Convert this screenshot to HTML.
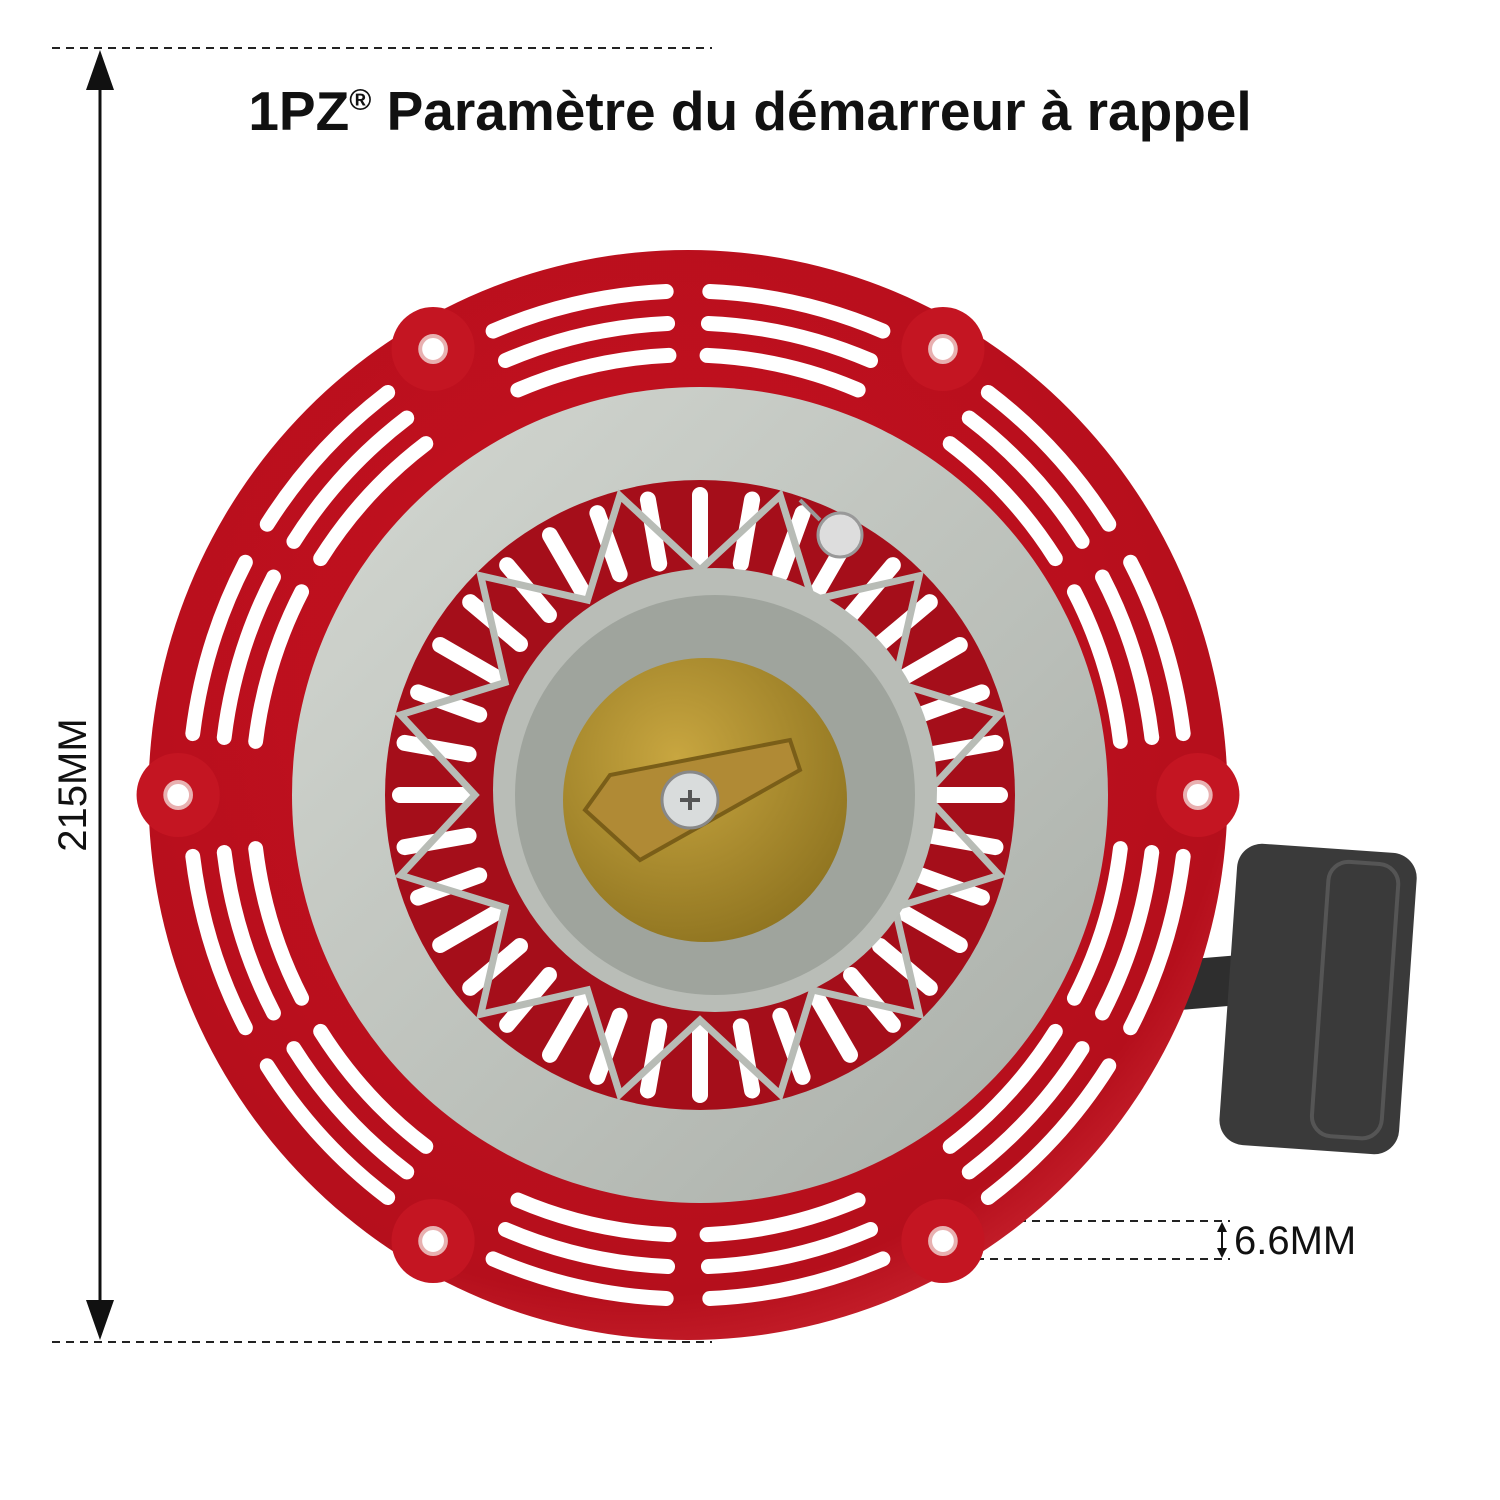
<!DOCTYPE html>
<html><head><meta charset="utf-8"><style>
body{margin:0;background:#fff;width:1500px;height:1500px;overflow:hidden}
svg{display:block}
</style></head><body>
<svg id="s" width="1500" height="1500" viewBox="0 0 1500 1500" xmlns="http://www.w3.org/2000/svg">
<defs>
<radialGradient id="red" cx="0.45" cy="0.4" r="0.7"><stop offset="0" stop-color="#c81020"/><stop offset="0.8" stop-color="#b50f1c"/><stop offset="1" stop-color="#d8323c"/></radialGradient>
<radialGradient id="gold" cx="0.4" cy="0.35" r="0.7"><stop offset="0" stop-color="#c8a640"/><stop offset="1" stop-color="#8f7420"/></radialGradient>
<linearGradient id="gr" x1="0" y1="0" x2="1" y2="1"><stop offset="0" stop-color="#d4d8d2"/><stop offset="1" stop-color="#a9aea8"/></linearGradient>
</defs>
<text x="750" y="130" text-anchor="middle" font-family="Liberation Sans, sans-serif" font-weight="bold" font-size="55" fill="#111">1PZ<tspan font-size="30" dy="-20">®</tspan><tspan dy="20"> Paramètre du démarreur à rappel</tspan></text>

<g stroke="#222" stroke-width="2" stroke-dasharray="8,6" fill="none">
<line x1="52" y1="48" x2="712" y2="48"/><line x1="52" y1="1342" x2="712" y2="1342"/>
<line x1="948" y1="1221" x2="1230" y2="1221"/><line x1="948" y1="1259" x2="1230" y2="1259"/>
</g>
<line x1="100" y1="80" x2="100" y2="1310" stroke="#111" stroke-width="3"/>
<polygon points="100,50 86,90 114,90" fill="#111"/><polygon points="100,1340 86,1300 114,1300" fill="#111"/>
<line x1="1222" y1="1226" x2="1222" y2="1254" stroke="#111" stroke-width="2"/>
<polygon points="1222,1222 1217,1232 1227,1232" fill="#111"/><polygon points="1222,1258 1217,1248 1227,1248" fill="#111"/>
<text transform="translate(86,785) rotate(-90)" text-anchor="middle" font-family="Liberation Sans, sans-serif" font-size="40" fill="#111">215MM</text>
<text x="1234" y="1254" font-family="Liberation Sans, sans-serif" font-size="40" fill="#111">6.6MM</text>

<path d="M1120,965 L1240,955 L1240,1005 L1120,1015 Z" fill="#2e2e2e"/>
<rect x="1228" y="848" width="180" height="302" rx="25" fill="#3a3a3a" transform="rotate(4 1318 1000)"/>
<rect x="1320" y="860" width="70" height="275" rx="20" fill="none" stroke="#555" stroke-width="4" transform="rotate(4 1318 1000)"/>

<g id="housing"></g>
</svg>
<script>
const NS="http://www.w3.org/2000/svg";
const g=document.getElementById('housing');
function el(t,a,p){const e=document.createElementNS(NS,t);for(const k in a)e.setAttribute(k,a[k]);(p||g).appendChild(e);return e;}
const cx=688,cy=795,sx=0.99;
const og=el('g',{transform:`translate(${cx},${cy}) scale(${sx},1)`});
const lugs=[0,60,120,180,-120,-60];
el('circle',{r:545,fill:'url(#red)'},og);
lugs.forEach(a=>{const r=a*Math.PI/180;el('circle',{cx:Math.cos(r)*515,cy:Math.sin(r)*515,r:42,fill:'#c41522'},og);});
const slotG=el('g',{stroke:'#fff','stroke-width':15,'stroke-linecap':'round',fill:'none'},og);
const groups=[[30,30],[90,30],[150,30],[-150,30],[-90,30],[-30,30]];
groups.forEach(([c,w])=>{
 [-1,1].forEach(side=>{
  const a0=c+side*2.5, a1=c+side*(w-7);
  [440,472,504].forEach(r=>{
   const s=Math.min(a0,a1)*Math.PI/180,e=Math.max(a0,a1)*Math.PI/180;
   el('path',{d:`M${Math.cos(s)*r},${Math.sin(s)*r} A${r},${r} 0 0 1 ${Math.cos(e)*r},${Math.sin(e)*r}`},slotG);
  });
 });
});
lugs.forEach(a=>{const r=a*Math.PI/180;el('circle',{cx:Math.cos(r)*515,cy:Math.sin(r)*515,r:13,fill:'#fff',stroke:'#e8b0b0','stroke-width':4},og);});
el('circle',{cx:700,cy:795,r:408,fill:'url(#gr)'});
el('circle',{cx:700,cy:795,r:315,fill:'#a50e1a'});
const sg=el('g',{stroke:'#fff','stroke-width':16,'stroke-linecap':'round'});
for(let i=0;i<36;i++){const a=i*10*Math.PI/180;el('line',{x1:700+Math.cos(a)*235,y1:795+Math.sin(a)*235,x2:700+Math.cos(a)*300,y2:795+Math.sin(a)*300},sg);}
let pts=[];for(let i=0;i<=24;i++){const a=i*15*Math.PI/180;const r=i%2?310:225;pts.push((700+Math.cos(a)*r).toFixed(1)+','+(795+Math.sin(a)*r).toFixed(1));}
el('polyline',{points:pts.join(' '),fill:'none',stroke:'#b8bcb6','stroke-width':7});
el('circle',{cx:715,cy:790,r:222,fill:'#b9bdb7'});
el('circle',{cx:715,cy:795,r:200,fill:'#9fa49d'});
el('circle',{cx:705,cy:800,r:142,fill:'url(#gold)'});
el('path',{d:'M585,810 L610,775 L790,740 L800,770 L640,860 Z',fill:'#b08a35',stroke:'#7a5e18','stroke-width':4});
el('circle',{cx:690,cy:800,r:28,fill:'#d9dcdc',stroke:'#888','stroke-width':3});
el('path',{d:'M680,800 h20 M690,790 v20',stroke:'#555','stroke-width':4});
el('circle',{cx:840,cy:535,r:22,fill:'#ddd',stroke:'#999','stroke-width':3});
el('path',{d:'M820,520 L800,500',stroke:'#999','stroke-width':4});
</script>
</body></html>
